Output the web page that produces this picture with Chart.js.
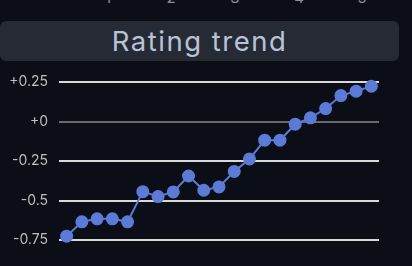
<!DOCTYPE html>
<html>
<head>
<meta charset="utf-8">
<script src="https://cdn.jsdelivr.net/npm/chart.js@4"></script>
<style>
  html, body { margin: 0; padding: 0; background: #0b0e17; width: 412px; height: 266px; overflow: hidden; font-family: Inter, sans-serif; }
  .toplbl { position: absolute; top: -12px; font-size: 15px; color: #8a8d96; transform: translateX(-50%); }
  #title { position: absolute; left: 0; top: 21px; width: 399px; height: 40px; background: #262a35; border-radius: 6px;
           color: #b9c3d6; font-size: 27.5px; letter-spacing: 1.5px; line-height: 40px; text-align: center; }
  #wrap { position: absolute; left: 0; top: 62px; width: 412px; height: 204px; }
</style>
</head>
<body>
<div id="tops"></div>
<div id="title">Rating trend</div>
<div id="wrap"><canvas id="trend"></canvas></div>
<script>
// labels peeking in from the chart above
const bovenLabels = ["1", "2", "3", "4", "5"];
const bovenX = [108, 171, 235, 299, 362];

// rating per game
const games = ["1","2","3","4","5","6","7","8","9","10","11","12","13","14","15","16","17","18","19","20","21"];
const rating = [-0.726, -0.635, -0.616, -0.616, -0.635, -0.444, -0.475, -0.446, -0.345, -0.435, -0.414,
                -0.316, -0.237, -0.118, -0.118, -0.017, 0.023, 0.082, 0.164, 0.192, 0.223];

const tops = document.getElementById('tops');
bovenLabels.forEach((t, i) => {
    const s = document.createElement('span');
    s.className = 'toplbl';
    s.style.left = bovenX[i] + 'px';
    s.textContent = t;
    tops.appendChild(s);
});

new Chart(document.getElementById('trend').getContext('2d'), {
    type: 'line',
    data: {
        labels: games,
        datasets: [{
            data: rating,
            borderColor: '#5b7bd6',
            backgroundColor: '#5b7bd6',
            borderWidth: 2,
            pointRadius: 5.5,
            pointHoverRadius: 5.5,
            tension: 0,
            clip: false
        }]
    },
    options: {
        responsive: true,
        maintainAspectRatio: false,
        animation: false,
        layout: { padding: { top: 20, right: 33, bottom: 26, left: 0 } },
        plugins: { legend: { display: false }, tooltip: { enabled: false } },
        scales: {
            x: { display: false, offset: true },
            y: {
                min: -0.75,
                max: 0.25,
                afterFit: (s) => { s.width = 59; },
                border: { display: false },
                grid: {
                    drawTicks: false,
                    lineWidth: 2,
                    color: (c) => c.tick && c.tick.value === 0 ? '#6a6a6a' : '#d9d9d9'
                },
                ticks: {
                    stepSize: 0.25,
                    padding: 11,
                    color: '#bfbfbf',
                    font: { family: 'Inter', size: 14 },
                    callback: (v) => {
                        const n = Math.round(v * 100) / 100;
                        return n >= 0 ? '+' + n : String(n);
                    }
                }
            }
        }
    }
});
</script>
</body>
</html>
